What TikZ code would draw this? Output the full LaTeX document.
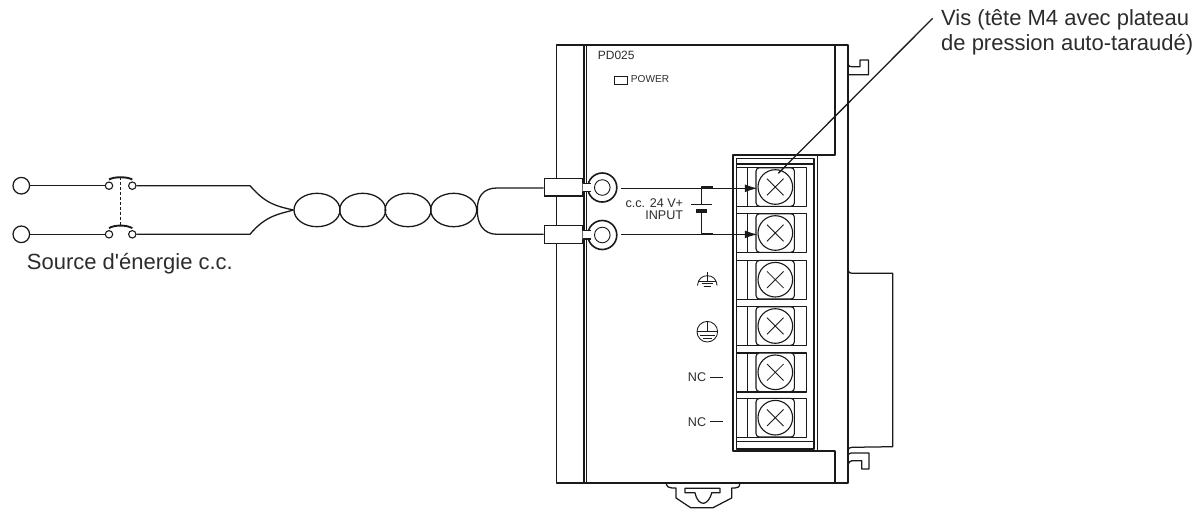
\documentclass[tikz,border=0pt]{standalone}
\usepackage{fontspec}
\setmainfont{Liberation Sans}
\newfontfamily\rawsans{Liberation Sans}
\usetikzlibrary{arrows.meta,shapes.geometric}
\definecolor{ink}{HTML}{1A1A1A}
\definecolor{txt}{HTML}{2C2C2C}
\tikzset{
  body/.style={draw=ink,line width=1.8pt,line join=round},
  fine/.style={draw=ink,line width=1.25pt,line join=round},
  wire/.style={draw=ink,line width=1.3pt},
  thin/.style={draw=ink,line width=0.85pt},
  lab/.style={text=txt,inner sep=0pt,font=\fontsize{12.6}{14}\selectfont},
  big/.style={text=txt,inner sep=0pt,font=\rawsans\fontsize{22}{25}\selectfont},
  src/.style={circle,draw=ink,line width=1.25pt,fill=white,minimum size=16.6pt,inner sep=0pt},
  contact/.style={circle,draw=ink,line width=1.1pt,fill=white,minimum size=7.4pt,inner sep=0pt},
  twist/.style={ellipse,draw=ink,line width=1.3pt,minimum width=46pt,minimum height=33.4pt,inner sep=0pt},
  sleeve/.style={rectangle,draw=ink,line width=1.4pt,fill=white,minimum width=38.4pt,minimum height=17.8pt,inner sep=0pt},
  ringo/.style={circle,draw=ink,line width=1.6pt,fill=white,minimum size=29pt,inner sep=0pt},
  ringi/.style={circle,draw=ink,line width=0.9pt,fill=white,minimum size=15.6pt,inner sep=0pt},
  screw/.style={circle,draw=ink,line width=1.1pt,fill=white,minimum size=34.6pt,inner sep=0pt},
  plate/.style={rectangle,rounded corners=3.5pt,draw=ink,line width=1.1pt,fill=white,minimum width=38.4pt,minimum height=38.6pt,inner sep=0pt},
  arr/.style={draw=ink,line width=1.2pt,-{Latex[length=12.5pt,width=7.8pt]}},
}
\begin{document}
\begin{tikzpicture}[x=1pt,y=-1pt]
\useasboundingbox (0,0) rectangle (1195,512);
% module body
\draw[body] (556.5,45) rectangle (848,482.7);
\draw[body] (584,45) -- (584,482.7);
\draw[fine] (586.3,45) -- (586.3,482.7);
\draw[fine] (835,45) -- (835,155) -- (733,155) -- (733,451) -- (835,451) -- (835,482.7);
% terminal block frame
\draw[fine] (817.7,155) -- (817.7,451);
\draw[fine] (736.7,158.7) -- (814,158.7) -- (814,449) -- (736.7,449) -- cycle;
\draw[fine] (736.7,164) -- (814,164);
\draw[fine] (736.7,441.7) -- (814,441.7);
% terminals
\foreach \n/\y in {1/187,2/233,3/279.7,4/326,5/372.3,6/417.7}{
  \draw[fine] (736.7,\y-19.4) -- (806.7,\y-19.4) -- (806.7,\y+19.6) -- (736.7,\y+19.6);
  \draw[fine] (747.3,\y-19.4) -- (747.3,\y+19.6);
  \node[plate] (plate\n) at (775.2,\y) {};
  \node[screw] (screw\n) at (775.3,\y) {};
  \draw[thin] (767,\y-8.3) -- (783.6,\y+8.3) (767,\y+8.3) -- (783.6,\y-8.3);
}
% hooks and side protrusion
\draw[fine] (848,64) .. controls (848.5,66.5) and (850,66.7) .. (852,66.7) -- (860,66.7) -- (860,60) -- (868.5,60) -- (868.5,74.7) -- (848,74.7);
\draw[fine] (848,270) .. controls (848.5,272.5) and (850,273.3) .. (852,273.3) -- (892.7,273.3) -- (892.7,446.7) -- (852,447.3) .. controls (850,447.5) and (848.5,448) .. (848,450);
\draw[fine] (848,454.5) -- (851,453) -- (869,453) -- (869,469) -- (861.7,469) -- (861.7,460.7) -- (852,460.7) .. controls (850,461) and (848.5,462) .. (848,465);
% bottom clip
\draw[fine] (666,483) .. controls (667,487) and (669,488) .. (672,488) -- (676,488) -- (676,498) -- (690.7,507.7) -- (713,507.7) -- (731.7,498) -- (731.7,488) -- (735,488) .. controls (738,488) and (739.5,487) .. (740,483);
\draw[fine] (685,488.3) -- (720,488.3) -- (720,492.7) -- (711.7,492.7) .. controls (710,500) and (706,503.3) .. (703.3,503.3) .. controls (700,503.3) and (696.5,500) .. (695,492.7) -- (685,492.7) -- cycle;
% front-panel text
\node[lab,anchor=west,font=\fontsize{12}{14}\selectfont] (model) at (597.7,55) {PD025};
\node[draw=ink,line width=0.75pt,minimum width=12.4pt,minimum height=8.3pt,inner sep=0pt,anchor=west] (led) at (614.3,80.1) {};
\node[lab,anchor=west,font=\fontsize{10.1}{12}\selectfont] (power) at (630.7,79.5) {POWER};
\node[lab,anchor=east] (cc) at (683.3,202.8) {c.c. 24 V+};
\node[lab,anchor=east] (input) at (683.3,215) {INPUT};
\node[lab,anchor=west] (nc1) at (687.7,376.7) {NC};
\node[lab,anchor=west] (nc2) at (687.7,421.7) {NC};
\draw[fine] (710,377.4) -- (722.7,377.4);
\draw[fine] (710,421.6) -- (722.7,421.6);
% earth symbols
\draw[thin] (697.5,285.5) .. controls (698,279) and (702,275.7) .. (707.3,275.7) .. controls (712.6,275.7) and (716.6,279) .. (717.1,285.5);
\draw[thin] (707.3,272.3) -- (707.3,281) (698.5,281) -- (716.1,281);
\draw[thin] (701.5,283.7) -- (713.1,283.7) (703.5,286) -- (711.1,286);
\node[circle,draw=ink,line width=0.85pt,minimum size=20.6pt,inner sep=0pt] (pe) at (707.3,331.7) {};
\draw[thin] (pe.north) -- (707.3,331) (pe.west) ++(0.5,-0.7) -- ++(19.6,0);
\draw[thin] (700,335) -- (714.6,335) (702.5,338.3) -- (712.1,338.3);
% source side
\node[src] (s1) at (21.3,185.7) {};
\node[src] (s2) at (21.3,234.3) {};
\node[contact] (a1) at (109,185.7) {};
\node[contact] (b1) at (132.3,185.7) {};
\node[contact] (a2) at (109,234.3) {};
\node[contact] (b2) at (132.3,234.3) {};
\draw[wire] (s1) -- (a1);
\draw[wire] (s2) -- (a2);
\draw[draw=ink,line width=1.9pt] (109,179.5) .. controls (114,176.5) and (127,176.5) .. (132.3,179.5);
\draw[draw=ink,line width=1.9pt] (109,228.2) .. controls (114,224.7) and (127,224.7) .. (132.3,228.2);
\draw[draw=ink,line width=1pt,densely dashed] (120.7,176.5) -- (120.7,225);
% twisted pair
\node[twist] (t1) at (317,210) {};
\node[twist] (t2) at (362.7,210) {};
\node[twist] (t3) at (408,210) {};
\node[twist] (t4) at (453.7,210) {};
\node[sleeve] (sl1) at (563.5,187.2) {};
\node[sleeve] (sl2) at (563.5,234.3) {};
\draw[wire] (b1) -- (250,185.7) .. controls (266,204) and (276,206) .. (t1.west);
\draw[wire] (b2) -- (250,234.3) .. controls (266,215) and (280,214) .. (t1.west);
\draw[wire] (t4.east) .. controls (477,197) and (483,188) .. (497,188) -- (sl1.west |- 0,188);
\draw[wire] (t4.east) .. controls (477,223) and (483,234.3) .. (497,234.3) -- (sl2.west);
% ring terminals
\node[ringo] (r1) at (602.3,187.5) {};
\node[ringo] (r2) at (602.3,235) {};
\node[ringi] (ri1) at (602.3,187.5) {};
\node[ringi] (ri2) at (602.3,235) {};
\fill[white] (582.7,183.3) rectangle (590.8,191.7) (582.7,230.6) rectangle (590.8,239);
\draw[fine] (582.7,183.3) -- (590.8,183.3) (582.7,191.7) -- (590.8,191.7);
\draw[fine] (582.7,230.6) -- (590.8,230.6) (582.7,239) -- (590.8,239);
% input wires
\draw[arr,shorten <=3.4pt] (r1.east |- 0,188.3) -- (screw1.west |- 0,188.3);
\draw[arr,shorten <=3.4pt] (r2.east |- 0,234.4) -- (screw2.west |- 0,234.4);
% battery symbol
\draw[fine] (713,187) -- (701.3,187) -- (701.3,204.3);
\draw[fine] (691,204.3) -- (712.3,204.3);
\fill[ink] (695.7,209.3) rectangle (706.7,212.9);
\draw[fine] (701.3,212.7) -- (701.3,233.2) -- (713,233.2);
% annotations
\node[big,anchor=west] (vis1) at (941,20) {Vis (tête M4 avec plateau};
\node[big,anchor=west] (vis2) at (941,45) {de pression auto-taraudé)};
\coordinate (visfree) at (932.7,18.3);
\coordinate (vistip) at (778.3,173.3);
\draw[wire] (visfree) -- (vistip);
\node[big,anchor=west] (srctxt) at (26.7,263.5) {Source d'énergie c.c.};
\end{tikzpicture}
\end{document}
